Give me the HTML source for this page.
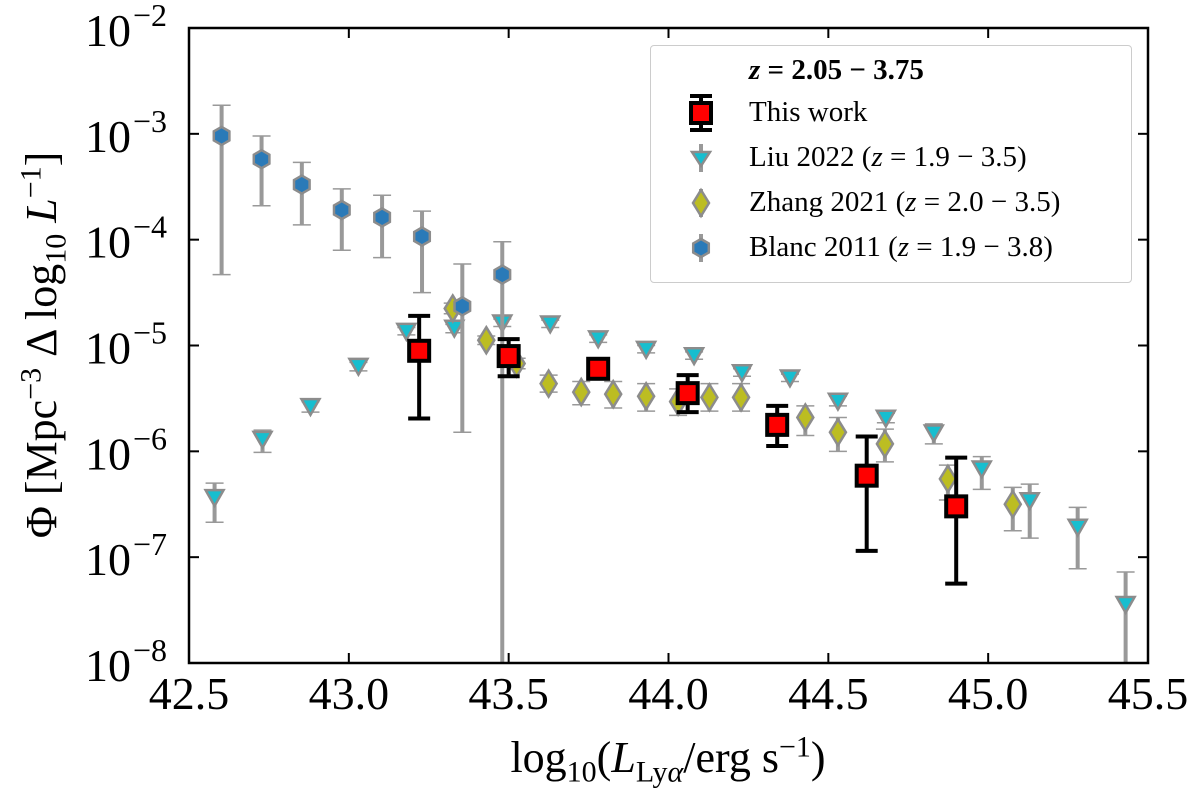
<!DOCTYPE html>
<html><head><meta charset="utf-8"><style>
html,body{margin:0;padding:0;background:#fff;}
svg{display:block;font-family:"Liberation Serif",serif;}
</style></head><body>
<svg id="chart" width="1200" height="797" viewBox="0 0 1200 797" xmlns="http://www.w3.org/2000/svg"></svg>
<script>
// ---- data ----
const workX=[43.22,43.50,43.78,44.06,44.34,44.62,44.90];
const workLogY=[-5.05,-5.10,-5.22,-5.45,-5.75,-6.23,-6.52];
const workLogHi=[-4.72,-4.94,-5.18,-5.28,-5.57,-5.86,-6.06];
const workLogLo=[-5.69,-5.29,-5.26,-5.63,-5.95,-6.94,-7.25];

const liuX=[42.58,42.73,42.88,43.03,43.18,43.33,43.48,43.63,43.78,43.93,44.08,44.23,44.38,44.53,44.68,44.83,44.98,45.13,45.28,45.43];
const liuLogY=[-6.43,-5.88,-5.57,-5.19,-4.86,-4.83,-4.78,-4.79,-4.93,-5.03,-5.09,-5.25,-5.30,-5.52,-5.68,-5.82,-6.16,-6.46,-6.71,-7.44];
const liuLogHi=[-6.30,-5.80,-5.53,-5.16,-4.83,-4.80,-4.75,-4.76,-4.90,-5.00,-5.06,-5.22,-5.27,-5.48,-5.64,-5.74,-6.05,-6.31,-6.53,-7.14];
const liuLogLo=[-6.67,-6.01,-5.63,-5.24,-4.90,-4.88,-4.82,-4.83,-4.97,-5.07,-5.13,-5.29,-5.34,-5.57,-5.73,-5.93,-6.36,-6.82,-7.11,-8.6];

const zhangX=[43.325,43.43,43.525,43.625,43.727,43.827,43.93,44.03,44.128,44.227,44.428,44.53,44.677,44.874,45.077];
const zhangLogY=[-4.65,-4.95,-5.17,-5.36,-5.44,-5.46,-5.48,-5.53,-5.49,-5.49,-5.68,-5.82,-5.93,-6.26,-6.50];
const zhangLogHi=[-4.60,-4.91,-5.12,-5.28,-5.34,-5.34,-5.36,-5.41,-5.36,-5.36,-5.57,-5.68,-5.79,-6.13,-6.34];
const zhangLogLo=[-4.70,-4.99,-5.22,-5.44,-5.56,-5.59,-5.62,-5.66,-5.62,-5.62,-5.85,-6.00,-6.10,-6.46,-6.75];

const blancX=[42.602,42.727,42.853,42.978,43.104,43.229,43.355,43.48];
const blancLogY=[-3.02,-3.24,-3.48,-3.72,-3.79,-3.97,-4.63,-4.33];
const blancLogHi=[-2.73,-3.02,-3.27,-3.52,-3.58,-3.73,-4.23,-4.02];
const blancLogLo=[-4.33,-3.68,-3.86,-4.10,-4.17,-4.50,-5.82,-9];

const xTicks=[42.5,43.0,43.5,44.0,44.5,45.0,45.5];
const xTickLabels=["42.5","43.0","43.5","44.0","44.5","45.0","45.5"];
const yTicks=[-2,-3,-4,-5,-6,-7,-8];
const yTickLabels=["\u22122","\u22123","\u22124","\u22125","\u22126","\u22127","\u22128"];

// ---- layout ----
const L=189,R=1148,T=28,B=663;
const xMin=42.5,xMax=45.5,yMax=-2,yMin=-8;
const sx=v=>L+(v-xMin)/(xMax-xMin)*(R-L);
const sy=v=>T+(yMax-v)/(yMax-yMin)*(B-T);
const NS="http://www.w3.org/2000/svg";
const svg=document.getElementById('chart');
function mk(tag,attrs,parent){const e=document.createElementNS(NS,tag);for(const k in attrs)e.setAttribute(k,attrs[k]);(parent||svg).appendChild(e);return e;}

const defs=mk('defs',{});
const cp=mk('clipPath',{id:'clip'},defs);
mk('rect',{x:L,y:T,width:R-L,height:B-T},cp);

const plot=mk('g',{'clip-path':'url(#clip)'});



function errbar(g,x,hi,lo,color,w,cap,capw){
  const px=sx(x);
  mk('line',{x1:px,x2:px,y1:sy(hi),y2:sy(lo),stroke:color,'stroke-width':w},g);
  mk('line',{x1:px-cap,x2:px+cap,y1:sy(hi),y2:sy(hi),stroke:color,'stroke-width':capw},g);
  mk('line',{x1:px-cap,x2:px+cap,y1:sy(lo),y2:sy(lo),stroke:color,'stroke-width':capw},g);
}
function tri(g,cx,cy,s){return mk('polygon',{points:`${cx-s},${cy-s*0.75} ${cx+s},${cy-s*0.75} ${cx},${cy+s*1.0}`,fill:'#17becf',stroke:'#8c8c8c','stroke-width':2.5},g);}
function dia(g,cx,cy){return mk('polygon',{points:`${cx},${cy-13} ${cx+8},${cy} ${cx},${cy+13} ${cx-8},${cy}`,fill:'#bcbd22',stroke:'#8c8c8c','stroke-width':2.5},g);}
function hex(g,cx,cy,r){let p=[];for(let i=0;i<6;i++){const a=Math.PI/6+i*Math.PI/3;p.push((cx+r*Math.cos(a)).toFixed(1)+','+(cy+r*Math.sin(a)).toFixed(1));}return mk('polygon',{points:p.join(' '),fill:'#2a7ab8',stroke:'#8c8c8c','stroke-width':2.5},g);}

// Liu
const gLiu=mk('g',{},plot);


liuX.forEach((x,i)=>{
  errbar(gLiu,x,liuLogHi[i],liuLogLo[i],'#999',4,9,1.5);
  const m=tri(gLiu,sx(x),sy(liuLogY[i]),9);
  
  
});
// Zhang
const gZh=mk('g',{},plot);


zhangX.forEach((x,i)=>{
  errbar(gZh,x,zhangLogHi[i],zhangLogLo[i],'#999',4,9,1.5);
  const m=dia(gZh,sx(x),sy(zhangLogY[i]));
  
  
});
// Blanc
const gBl=mk('g',{},plot);


blancX.forEach((x,i)=>{
  errbar(gBl,x,blancLogHi[i],blancLogLo[i],'#999',4,9,1.5);
  const m=hex(gBl,sx(x),sy(blancLogY[i]),9);
  
  
});
// This work
const gW=mk('g',{},plot);


workX.forEach((x,i)=>{
  errbar(gW,x,workLogHi[i],workLogLo[i],'#000',4,11,4);
  const m=mk('rect',{x:sx(x)-10,y:sy(workLogY[i])-10,width:20,height:20,fill:'#ff0000',stroke:'#000','stroke-width':4},gW);
  
  
});

// axes frame
const frame=mk('rect',{x:L,y:T,width:R-L,height:B-T,fill:'none',stroke:'#000','stroke-width':2.5});



const gx=mk('g',{});


xTicks.forEach((v,i)=>{
  const px=sx(v);
  mk('line',{x1:px,x2:px,y1:B,y2:B-10,stroke:'#000','stroke-width':2},gx);
  mk('line',{x1:px,x2:px,y1:T,y2:T+10,stroke:'#000','stroke-width':2},gx);
  const t=mk('text',{x:px,y:B+46,'text-anchor':'middle','font-size':46},gx);
  t.textContent=xTickLabels[i];
  
  
});
const gy=mk('g',{});


yTicks.forEach((v,i)=>{
  const py=sy(v);
  mk('line',{x1:L,x2:L+10,y1:py,y2:py,stroke:'#000','stroke-width':2},gy);
  mk('line',{x1:R,x2:R-10,y1:py,y2:py,stroke:'#000','stroke-width':2},gy);
  const t=mk('text',{x:131,y:py+18,'text-anchor':'end','font-size':46},gy);
  t.textContent='10';
  
  
  const s=mk('text',{x:133,y:py-2,'text-anchor':'start','font-size':32},gy);
  s.textContent=yTickLabels[i];
});
</script>
<div style="position:absolute;left:44px;top:345px;transform:translate(-50%,-50%) rotate(-90deg);white-space:nowrap;font-family:'Liberation Serif',serif;font-size:44px;">Φ [Mpc<sup style="font-size:30px">−3</sup> Δ log<sub style="font-size:30px">10</sub> <i>L</i><sup style="font-size:30px">−1</sup>]</div>
<div style="position:absolute;left:668px;top:760px;transform:translate(-50%,-50%);white-space:nowrap;font-family:'Liberation Serif',serif;font-size:44px;">log<sub style="font-size:30px">10</sub>(<i>L</i><sub style="font-size:30px">Ly<i>α</i></sub>/erg s<sup style="font-size:30px">−1</sup>)</div>
<div style="position:absolute;left:650px;top:45px;width:480px;height:236px;border:1.5px solid #ccc;border-radius:4px;background:#fff;font-family:'Liberation Serif',serif;font-size:29px;">
  <div style="position:absolute;left:98px;top:8px;font-weight:bold;"><i>z</i> = 2.05 − 3.75</div>
  <div style="position:absolute;left:98px;top:50px;">This work</div>
  <div style="position:absolute;left:98px;top:95px;">Liu 2022 (<i>z</i> = 1.9 − 3.5)</div>
  <div style="position:absolute;left:98px;top:140px;">Zhang 2021 (<i>z</i> = 2.0 − 3.5)</div>
  <div style="position:absolute;left:98px;top:185px;">Blanc 2011 (<i>z</i> = 1.9 − 3.8)</div>
  <svg style="position:absolute;left:0;top:0" width="100" height="236">
    <line x1="50" y1="50" x2="50" y2="84" stroke="#000" stroke-width="4"/><line x1="39" y1="50" x2="61" y2="50" stroke="#000" stroke-width="4"/><line x1="39" y1="84" x2="61" y2="84" stroke="#000" stroke-width="4"/>
    <rect x="40" y="57" width="20" height="20" fill="#f00" stroke="#000" stroke-width="4"/>
    <line x1="50" y1="98" x2="50" y2="126" stroke="#999" stroke-width="4"/><polygon points="41,106 59,106 50,120" fill="#17becf" stroke="#8c8c8c" stroke-width="2.5"/>
    <line x1="50" y1="143" x2="50" y2="171" stroke="#999" stroke-width="4"/><polygon points="50,144 58,157 50,170 42,157" fill="#bcbd22" stroke="#8c8c8c" stroke-width="2.5"/>
    <line x1="50" y1="188" x2="50" y2="216" stroke="#999" stroke-width="4"/><polygon points="57.8,206.5 50,211 42.2,206.5 42.2,197.5 50,193 57.8,197.5" fill="#2a7ab8" stroke="#8c8c8c" stroke-width="2.5"/>
  </svg>
</div>
</body></html>
